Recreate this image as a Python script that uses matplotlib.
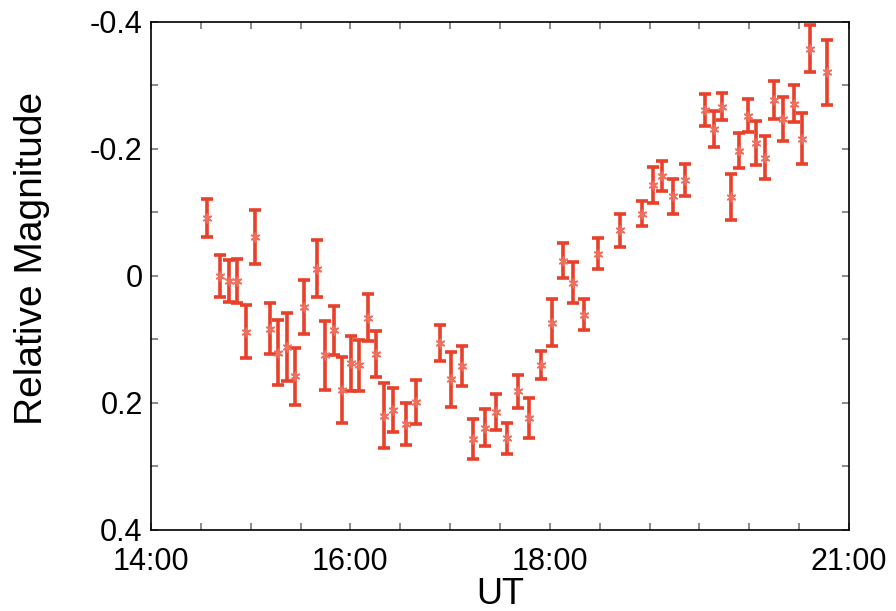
import matplotlib.pyplot as plt
import numpy as np

# time in decimal hours (UT), relative magnitude, 1-sigma error
ut = [14.56, 14.69, 14.78, 14.86, 14.95, 15.04, 15.19, 15.27, 15.36, 15.44,
      15.53, 15.67, 15.75, 15.84, 15.92, 16.01, 16.09, 16.18, 16.26, 16.34,
      16.43, 16.56, 16.66, 16.90, 17.01, 17.12, 17.23, 17.35, 17.46, 17.57,
      17.68, 17.79, 17.91, 18.02, 18.13, 18.23, 18.34, 18.48, 18.70, 18.92,
      19.03, 19.13, 19.24, 19.36, 19.56, 19.65, 19.73, 19.82, 19.90, 19.99,
      20.07, 20.16, 20.25, 20.34, 20.45, 20.53, 20.61, 20.78]
mag = [-0.091, 0.001, 0.008, 0.008, 0.088, -0.061, 0.083, 0.121, 0.112, 0.158,
       0.049, -0.011, 0.125, 0.086, 0.180, 0.138, 0.141, 0.066, 0.123, 0.220,
       0.211, 0.233, 0.199, 0.106, 0.163, 0.142, 0.257, 0.239, 0.214, 0.256,
       0.182, 0.224, 0.140, 0.074, -0.024, 0.011, 0.061, -0.035, -0.072, -0.098,
       -0.143, -0.157, -0.125, -0.151, -0.261, -0.231, -0.266, -0.124, -0.197, -0.252,
       -0.209, -0.186, -0.277, -0.247, -0.271, -0.216, -0.357, -0.320]
err = [0.030, 0.033, 0.033, 0.035, 0.042, 0.042, 0.040, 0.051, 0.053, 0.045,
       0.043, 0.045, 0.054, 0.039, 0.052, 0.043, 0.040, 0.037, 0.036, 0.051,
       0.035, 0.033, 0.035, 0.028, 0.043, 0.032, 0.031, 0.029, 0.028, 0.025,
       0.026, 0.031, 0.022, 0.037, 0.028, 0.032, 0.025, 0.024, 0.026, 0.020,
       0.028, 0.024, 0.028, 0.025, 0.025, 0.029, 0.021, 0.036, 0.028, 0.026,
       0.035, 0.034, 0.030, 0.035, 0.029, 0.040, 0.037, 0.051]

xticks = np.arange(14, 21.01, 0.5)
xlabels = {14: '14:00', 16: '16:00', 18: '18:00', 21: '21:00'}
yticks = np.arange(-0.4, 0.401, 0.1)

plt.rcParams['font.family'] = ['Liberation Sans', 'DejaVu Sans']

fig = plt.figure(figsize=(8.96, 6.11), dpi=100)
ax = fig.add_axes([0.1685, 0.1326, 0.779, 0.832])

red = '#e8402a'
ax.errorbar(ut, mag, yerr=err, fmt='none', ecolor=red, elinewidth=2.6,
            capsize=4.0, capthick=2.6)
ax.plot(ut, mag, ls='none', marker=(6, 2, 0), ms=7, mew=1.2, color='#f07060')

ax.set_xlim(14, 21)
ax.set_ylim(0.4, -0.4)

ax.set_xticks(xticks)
ax.set_xticklabels([xlabels.get(round(t, 2), '') for t in xticks])
ax.set_yticks(yticks)
ax.set_yticklabels(['-0.4', '', '-0.2', '', '0', '', '0.2', '', '0.4'])

ax.tick_params(direction='in', length=5, width=1.2, color='#777777',
               top=True, right=True, labelsize=22, pad=6)
ax.tick_params(axis='x', pad=12)
for s in ax.spines.values():
    s.set_linewidth(1.2)

ax.set_xlabel('UT', fontsize=26, labelpad=0)
ax.set_ylabel('Relative Magnitude', fontsize=28)
ax.yaxis.set_label_coords(-0.145, 0.535)

fig.savefig('out.png', dpi=100)
